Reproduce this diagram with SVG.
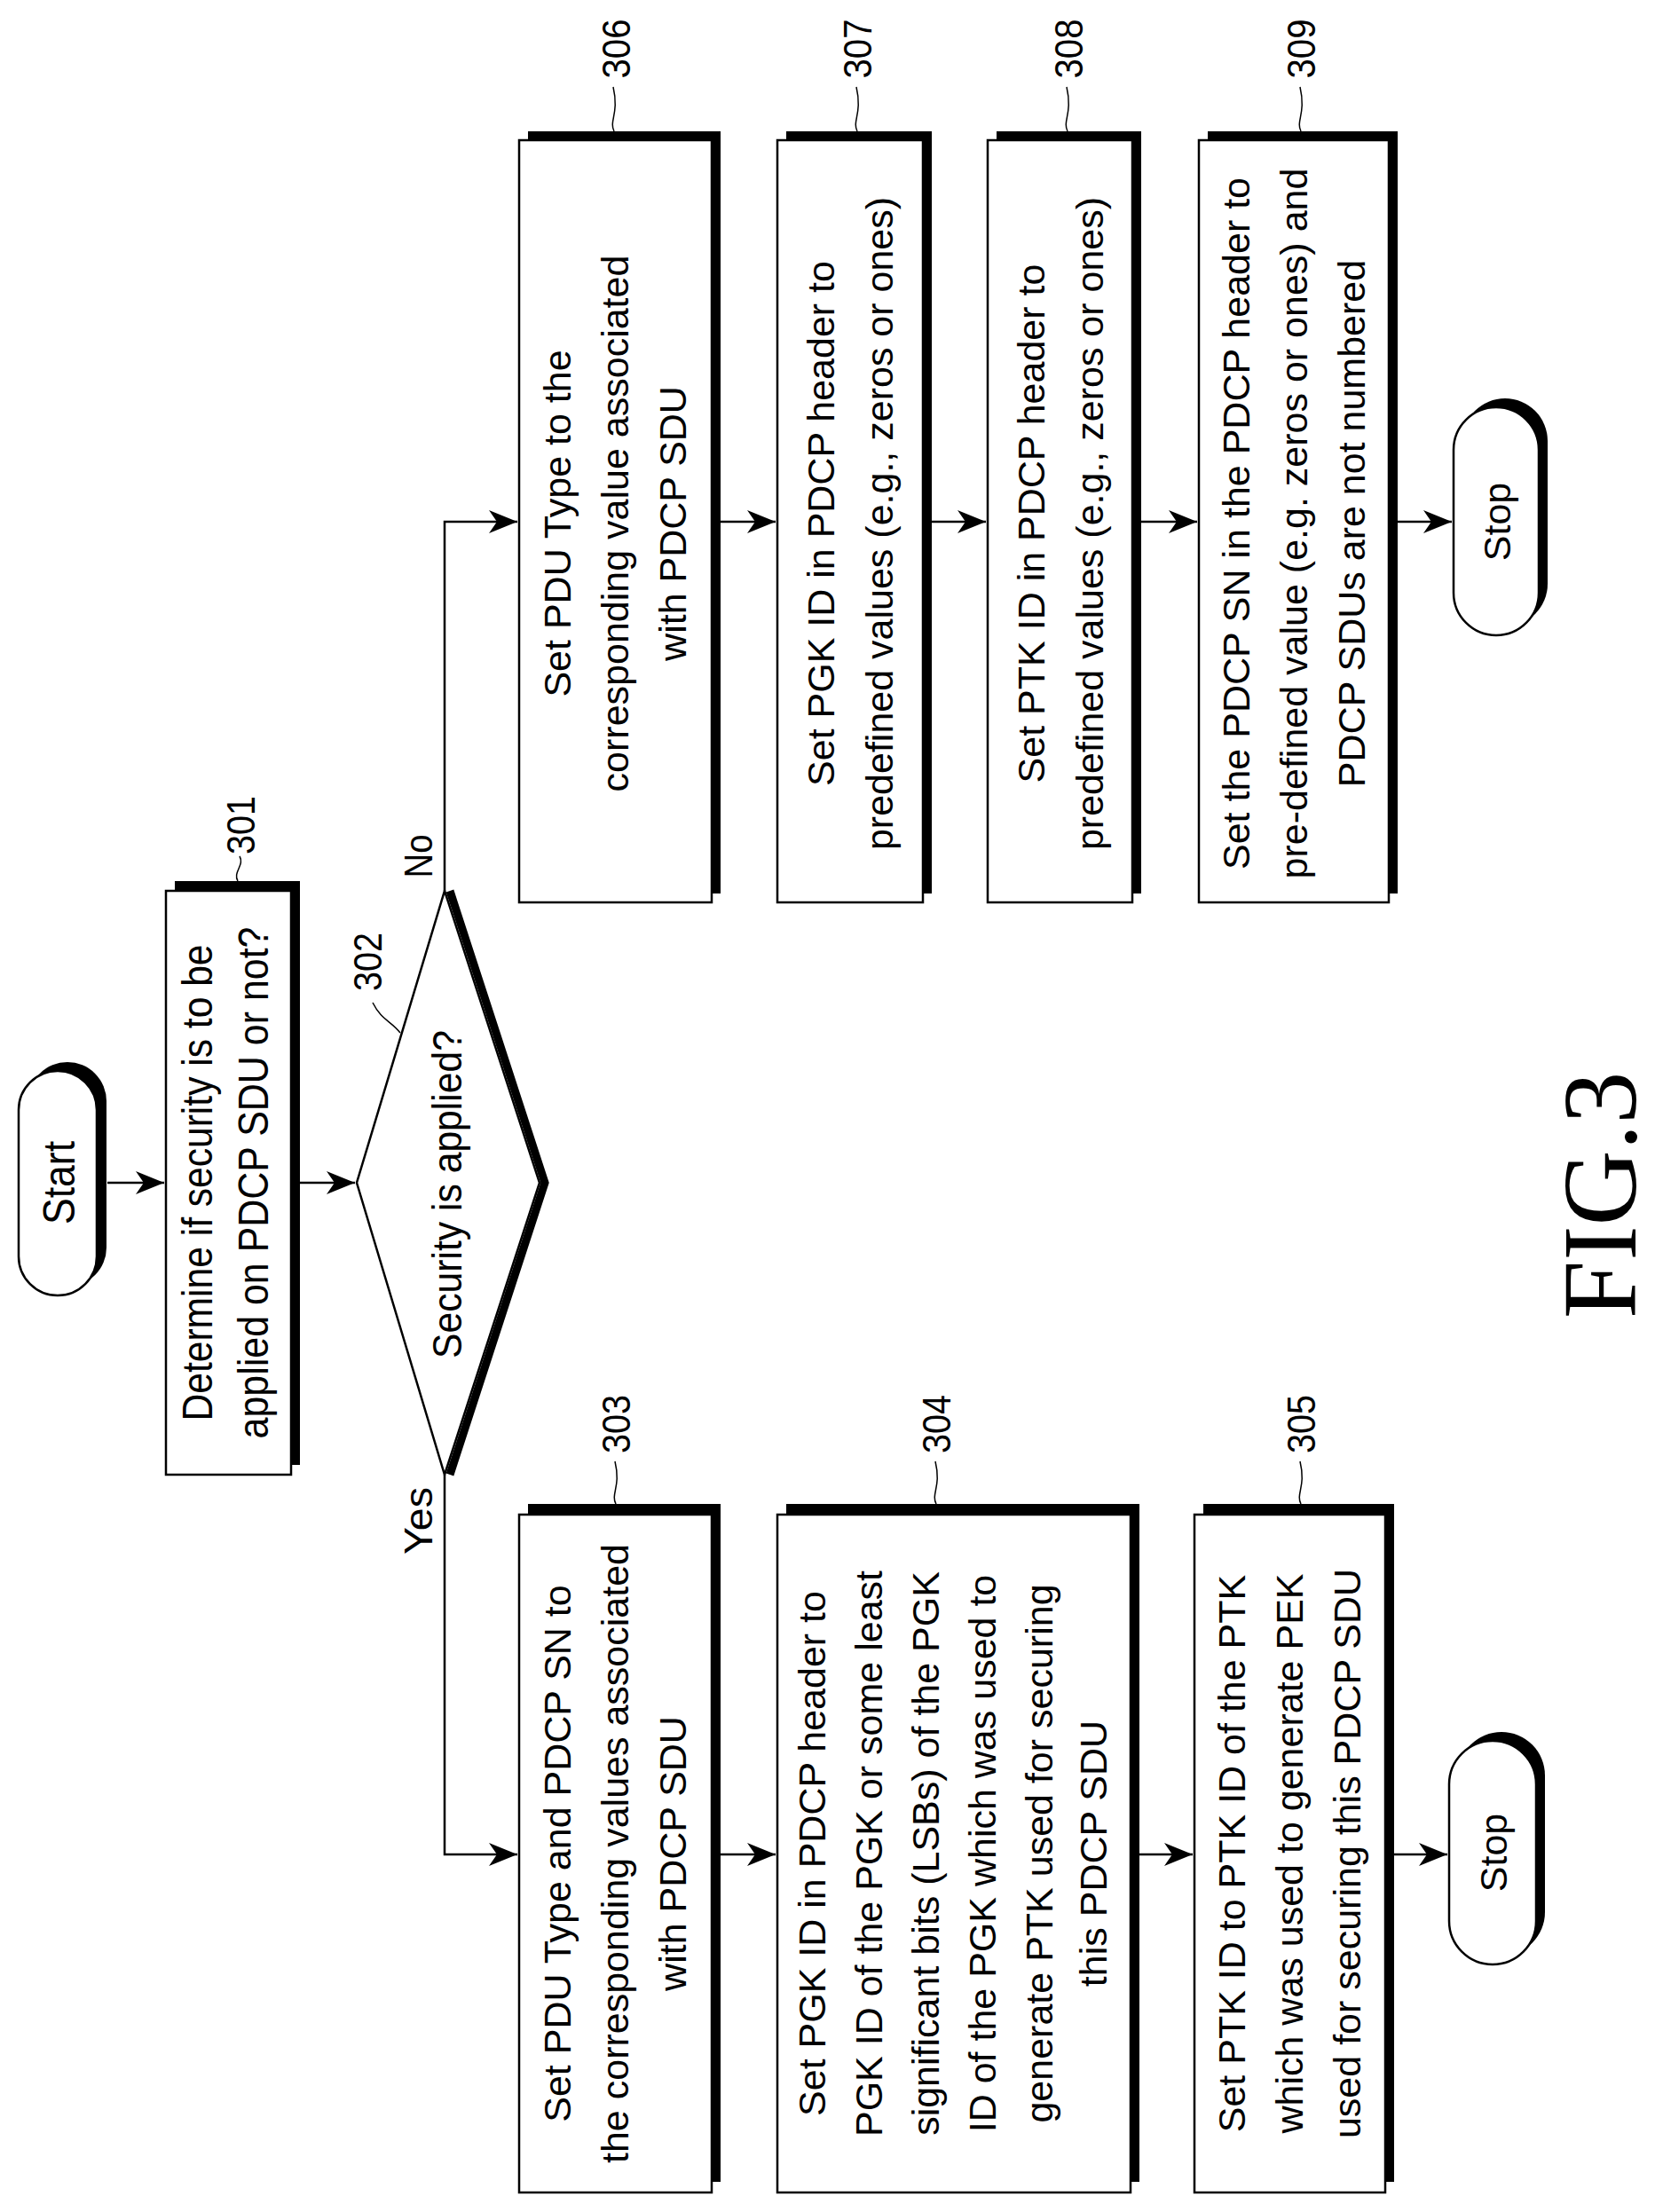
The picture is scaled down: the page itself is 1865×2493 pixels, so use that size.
<svg xmlns="http://www.w3.org/2000/svg" width="1865" height="2493" viewBox="0 0 1865 2493">
<style>
.box{fill:#fff;stroke:#000;stroke-width:2.5}
.sh{fill:#000}
.t{font-family:"Liberation Sans",Arial,sans-serif;font-size:43px;text-anchor:middle;fill:#000}
.n{font-family:"Liberation Sans Narrow","Liberation Sans",Arial,sans-serif;text-anchor:middle;fill:#000}
.ln{fill:none;stroke:#000;stroke-width:2.5}
.ld{fill:none;stroke:#000;stroke-width:1.5}
</style>
<defs>
<marker id="ar" markerUnits="userSpaceOnUse" markerWidth="34" markerHeight="26" refX="32" refY="13" orient="auto">
<path d="M0,0 L32,13 L0,26 L9,13 Z" fill="#000"/>
</marker>
</defs>
<rect width="1865" height="2493" fill="#fff"/>
<g id="connectors">
<path class="ln" d="M121,1333 H185" marker-end="url(#ar)"/>
<path class="ln" d="M338,1333 H400" marker-end="url(#ar)"/>
<path class="ln" d="M501,1004 V588 H583" marker-end="url(#ar)"/>
<path class="ln" d="M811,588 H874" marker-end="url(#ar)"/>
<path class="ln" d="M1049,588 H1111" marker-end="url(#ar)"/>
<path class="ln" d="M1286,588 H1349" marker-end="url(#ar)"/>
<path class="ln" d="M1574,588 H1636" marker-end="url(#ar)"/>
<path class="ln" d="M501,1662 V2090 H583" marker-end="url(#ar)"/>
<path class="ln" d="M811,2090 H874" marker-end="url(#ar)"/>
<path class="ln" d="M1283,2090 H1344" marker-end="url(#ar)"/>
<path class="ln" d="M1571,2090 H1631" marker-end="url(#ar)"/>
<text class="n" font-size="44" transform="translate(487,965) rotate(-90)" textLength="49" lengthAdjust="spacingAndGlyphs">No</text>
<text class="n" font-size="44" transform="translate(487,1714) rotate(-90)" textLength="76" lengthAdjust="spacingAndGlyphs">Yes</text>
</g>
<g id="start">
<rect class="sh" x="32" y="1197" width="88" height="253" rx="44"/>
<rect class="box" x="21" y="1207" width="88" height="253" rx="44"/>
<text class="n" font-size="50" transform="translate(84,1333) rotate(-90)" textLength="94" lengthAdjust="spacingAndGlyphs">Start</text>
</g>
<g id="n301">
<rect class="sh" x="197" y="993" width="141" height="658"/>
<rect class="box" x="187" y="1004" width="141" height="658"/>
<text class="n" font-size="48" transform="translate(255,1333) rotate(-90)"><tspan x="0" y="-16" textLength="537" lengthAdjust="spacingAndGlyphs">Determine if security is to be</tspan><tspan x="0" y="47" textLength="577" lengthAdjust="spacingAndGlyphs">applied on PDCP SDU or not?</tspan></text>
<text class="n" font-size="44" transform="translate(287,930) rotate(-90)" textLength="66" lengthAdjust="spacingAndGlyphs">301</text>
<path class="ld" d="M268,993 C262,983 276,975 270,965"/>
</g>
<g id="n302">
<polyline points="507,1004 614,1333 507,1662" fill="none" stroke="#000" stroke-width="9"/>
<polygon class="box" points="501,1004 608,1333 501,1662 402,1333"/>
<text class="n" font-size="46" transform="translate(520,1346) rotate(-90)" textLength="370" lengthAdjust="spacingAndGlyphs">Security is applied?</text>
<text class="n" font-size="44" transform="translate(430,1084) rotate(-90)" textLength="66" lengthAdjust="spacingAndGlyphs">302</text>
<path class="ld" d="M451,1164 C440,1150 430,1150 420,1130"/>
</g>
<g id="n303">
<rect class="sh" x="595" y="1695" width="217" height="764"/>
<rect class="box" x="585" y="1707" width="217" height="764"/>
<text class="t" transform="translate(693,2089) rotate(-90)"><tspan x="0" y="-50">Set PDU Type and PDCP SN to</tspan><tspan x="0" y="15">the corresponding values associated</tspan><tspan x="0" y="80">with PDCP SDU</tspan></text>
<text class="n" font-size="44" transform="translate(710,1605) rotate(-90)" textLength="66" lengthAdjust="spacingAndGlyphs">303</text>
<path class="ld" d="M694,1695 C688,1683 700,1676 693,1647"/>
</g>
<g id="n304">
<rect class="sh" x="886" y="1695" width="398" height="764"/>
<rect class="box" x="876" y="1707" width="398" height="764"/>
<text class="t" transform="translate(1075,2089) rotate(-90)"><tspan x="0" y="-145">Set PGK ID in PDCP header to</tspan><tspan x="0" y="-81">PGK ID of the PGK or some least</tspan><tspan x="0" y="-17">significant bits (LSBs) of the PGK</tspan><tspan x="0" y="47">ID of the PGK which was used to</tspan><tspan x="0" y="111">generate PTK used for securing</tspan><tspan x="0" y="172">this PDCP SDU</tspan></text>
<text class="n" font-size="44" transform="translate(1071,1605) rotate(-90)" textLength="66" lengthAdjust="spacingAndGlyphs">304</text>
<path class="ld" d="M1055,1695 C1049,1683 1061,1676 1054,1647"/>
</g>
<g id="n305">
<rect class="sh" x="1356" y="1695" width="215" height="764"/>
<rect class="box" x="1346" y="1707" width="215" height="764"/>
<text class="t" transform="translate(1453,2089) rotate(-90)"><tspan x="0" y="-50">Set PTK ID to PTK ID of the PTK</tspan><tspan x="0" y="15">which was used to generate PEK</tspan><tspan x="0" y="80">used for securing this PDCP SDU</tspan></text>
<text class="n" font-size="44" transform="translate(1482,1605) rotate(-90)" textLength="66" lengthAdjust="spacingAndGlyphs">305</text>
<path class="ld" d="M1466,1695 C1460,1683 1472,1676 1465,1647"/>
</g>
<g id="stop1">
<rect class="sh" x="1643" y="1952" width="98" height="252" rx="49"/>
<rect class="box" x="1633" y="1962" width="98" height="252" rx="49"/>
<text class="t" font-size="46" transform="translate(1698,2088) rotate(-90)">Stop</text>
</g>
<g id="n306">
<rect class="sh" x="595" y="148" width="217" height="859"/>
<rect class="box" x="585" y="158" width="217" height="859"/>
<text class="t" transform="translate(693,590) rotate(-90)"><tspan x="0" y="-50">Set PDU Type to the</tspan><tspan x="0" y="15">corresponding value associated</tspan><tspan x="0" y="80">with PDCP SDU</tspan></text>
<text class="n" font-size="44" transform="translate(710,55) rotate(-90)" textLength="67" lengthAdjust="spacingAndGlyphs">306</text>
<path class="ld" d="M692,148 C686,136 698,128 691,98"/>
</g>
<g id="n307">
<rect class="sh" x="886" y="148" width="164" height="859"/>
<rect class="box" x="876" y="158" width="164" height="859"/>
<text class="t" transform="translate(958,590) rotate(-90)"><tspan x="0" y="-18">Set PGK ID in PDCP header to</tspan><tspan x="0" y="48">predefined values (e.g., zeros or ones)</tspan></text>
<text class="n" font-size="44" transform="translate(982,55) rotate(-90)" textLength="67" lengthAdjust="spacingAndGlyphs">307</text>
<path class="ld" d="M966,148 C960,136 972,128 965,98"/>
</g>
<g id="n308">
<rect class="sh" x="1123" y="148" width="163" height="859"/>
<rect class="box" x="1113" y="158" width="163" height="859"/>
<text class="t" transform="translate(1195,590) rotate(-90)"><tspan x="0" y="-18">Set PTK ID in PDCP header to</tspan><tspan x="0" y="48">predefined values (e.g., zeros or ones)</tspan></text>
<text class="n" font-size="44" transform="translate(1220,55) rotate(-90)" textLength="67" lengthAdjust="spacingAndGlyphs">308</text>
<path class="ld" d="M1203,148 C1197,136 1209,128 1202,98"/>
</g>
<g id="n309">
<rect class="sh" x="1361" y="148" width="214" height="859"/>
<rect class="box" x="1351" y="158" width="214" height="859"/>
<text class="t" transform="translate(1458,590) rotate(-90)"><tspan x="0" y="-50">Set the PDCP SN in the PDCP header to</tspan><tspan x="0" y="15">pre-defined value (e.g. zeros or ones) and</tspan><tspan x="0" y="80">PDCP SDUs are not numbered</tspan></text>
<text class="n" font-size="44" transform="translate(1482,55) rotate(-90)" textLength="67" lengthAdjust="spacingAndGlyphs">309</text>
<path class="ld" d="M1466,148 C1460,136 1472,128 1465,98"/>
</g>
<g id="stop2">
<rect class="sh" x="1648" y="449" width="96" height="257" rx="48"/>
<rect class="box" x="1638" y="459" width="96" height="257" rx="48"/>
<text class="t" font-size="46" transform="translate(1702,588) rotate(-90)">Stop</text>
</g>
<text font-family="'Liberation Serif','Times New Roman',serif" font-size="118" text-anchor="middle" transform="translate(1843,1347) rotate(-90)">FIG.3</text>
</svg>
